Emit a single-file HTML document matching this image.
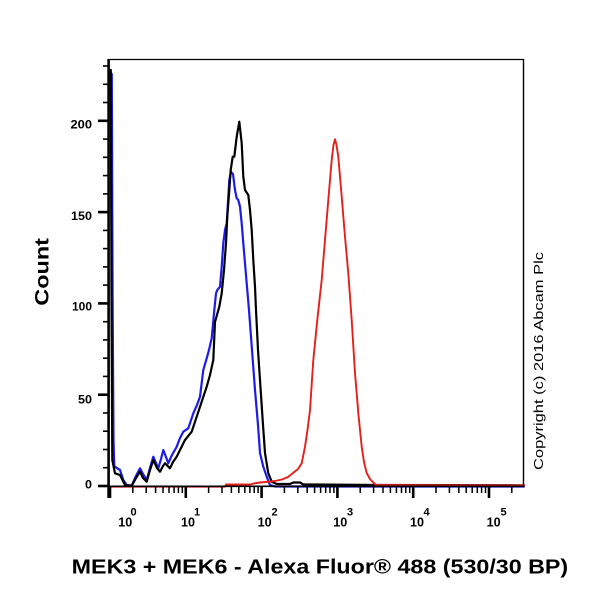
<!DOCTYPE html>
<html>
<head>
<meta charset="utf-8">
<style>
html,body{margin:0;padding:0;background:#fff;}
svg{display:block;}
text{font-family:"Liberation Sans",Arial,sans-serif;fill:#000;}
</style>
</head>
<body>
<svg width="600" height="600" viewBox="0 0 600 600" xmlns="http://www.w3.org/2000/svg">
<rect width="600" height="600" fill="#fff"/>

<!-- frame -->
<line x1="108" y1="59.5" x2="524" y2="59.5" stroke="#000" stroke-width="1.3"/>
<line x1="523.5" y1="59" x2="523.5" y2="487" stroke="#000" stroke-width="1.4"/>

<!-- curves -->
<g fill="none" stroke-linejoin="round" stroke-linecap="round">
<path stroke="#1c1ce6" stroke-width="2.2" d="M111,74 L111.8,74 L112.6,300 L113.5,440 L114.3,466 L116.7,468 L120,470 L123.3,480 L126.7,485 L131.7,485.5 L136,476 L140,468.3 L143,474 L146.7,480 L150,468 L153.3,456.7 L156,463 L158.3,468.3 L161,459 L163.3,450 L166,457 L168.3,463.3 L172,455 L176.7,446.7 L180,438 L183.3,431.7 L188.3,428.3 L193.3,413.3 L197,405 L200,396.7 L203.3,370 L206.7,358.3 L209,350 L211.7,338.3 L214.3,310 L215,303.3 L216,293.3 L217.3,290 L220,286.7 L221.7,266.7 L223.3,243.3 L225,230 L226.7,223.3 L228.3,196.7 L229.3,180 L231,172 L233,174 L235,190 L236.7,198.3 L238.3,200 L240,206.7 L241.7,223.3 L243.3,243.3 L245,263.3 L246.7,283.3 L249,310 L252,350 L255,390 L258,425 L260,453 L263.3,466.7 L266.7,476.7 L270,485 L275,486.5 L330,486.5 L524,486.5"/>
<path stroke="#000" stroke-width="2.2" d="M110.8,70 L111.5,300 L112.3,460 L115,473.3 L120,475 L125,485 L131.7,486 L136,478 L140,471.7 L143,478 L146.7,481.7 L150,470 L153.3,460 L157,468 L160,471.7 L163,466 L165,463.3 L170,468.3 L173,462 L176.7,456.7 L181,448 L185,440 L191.7,431.7 L196.7,416.7 L201.7,401.7 L206.7,386.7 L210,375 L213.3,360 L215,322 L219.3,306.7 L221.7,293.3 L224,270 L226,243.3 L227.3,216.7 L229.3,190 L230.7,170 L232.7,156.7 L234.3,156.7 L236.7,136.7 L239.3,121.7 L241.7,143.3 L243.3,176.7 L245,190 L248.3,195 L250,210 L251.7,230 L253.3,260 L255,286.7 L256,310 L258,350 L261,395 L263,425 L265,453 L268.3,473.3 L271.7,481.7 L276.7,484 L290,484 L293.3,482.5 L300,482.5 L303,484.3 L373,485 L524,485.3"/>
<path stroke="#e3201c" stroke-width="1.9" d="M110,486.7 L225,486.7 L226,484.5 L250,484.5 L256,483 L265,482 L275,481 L282,479.5 L288,477 L293,473 L298,469 L301.7,463.3 L305,446.7 L307.5,430 L310,410 L313.3,360 L317.3,320 L321.7,280 L325,240 L328.3,200 L331.7,160 L333.5,145 L335,139.3 L336.5,145 L338.3,156.7 L341.7,196.7 L345,236.7 L348.3,273.3 L351.7,320 L355,373 L358.3,413 L361.7,446.7 L364,462 L366.7,473 L370,479 L373.3,482.5 L376,485 L524,485.5"/>
</g>

<!-- axes -->
<line x1="108.6" y1="59" x2="108.6" y2="498" stroke="#000" stroke-width="2.6"/>
<line x1="108" y1="486.3" x2="524" y2="486.3" stroke="#000" stroke-width="1.6"/>

<!-- y ticks -->
<g stroke="#000">
<g stroke-width="1.6">
<line x1="103" y1="467.7" x2="108" y2="467.7"/>
<line x1="103" y1="449.5" x2="108" y2="449.5"/>
<line x1="103" y1="431.2" x2="108" y2="431.2"/>
<line x1="103" y1="413" x2="108" y2="413"/>
<line x1="103" y1="376.4" x2="108" y2="376.4"/>
<line x1="103" y1="358.2" x2="108" y2="358.2"/>
<line x1="103" y1="339.9" x2="108" y2="339.9"/>
<line x1="103" y1="321.7" x2="108" y2="321.7"/>
<line x1="103" y1="285.1" x2="108" y2="285.1"/>
<line x1="103" y1="266.9" x2="108" y2="266.9"/>
<line x1="103" y1="248.6" x2="108" y2="248.6"/>
<line x1="103" y1="230.4" x2="108" y2="230.4"/>
<line x1="103" y1="193.9" x2="108" y2="193.9"/>
<line x1="103" y1="175.6" x2="108" y2="175.6"/>
<line x1="103" y1="157.3" x2="108" y2="157.3"/>
<line x1="103" y1="139.1" x2="108" y2="139.1"/>
<line x1="103" y1="102.5" x2="108" y2="102.5"/>
<line x1="103" y1="84.3" x2="108" y2="84.3"/>
<line x1="103" y1="66" x2="108" y2="66"/>
</g>
<g stroke-width="2.6">
<line x1="98" y1="486" x2="108" y2="486"/>
<line x1="98" y1="394.7" x2="108" y2="394.7"/>
<line x1="98" y1="303.4" x2="108" y2="303.4"/>
<line x1="98" y1="212.1" x2="108" y2="212.1"/>
<line x1="98" y1="120.8" x2="108" y2="120.8"/>
</g>
</g>

<!-- x ticks -->
<g stroke="#000">
<g stroke-width="2.6">
<line x1="110" y1="486" x2="110" y2="498"/>
<line x1="185.8" y1="486" x2="185.8" y2="498"/>
<line x1="261.6" y1="486" x2="261.6" y2="498"/>
<line x1="337.4" y1="486" x2="337.4" y2="498"/>
<line x1="413.2" y1="486" x2="413.2" y2="498"/>
<line x1="489" y1="486" x2="489" y2="498"/>
</g>
<g stroke-width="1.5">
<line x1="132.8" y1="486" x2="132.8" y2="493"/><line x1="146.2" y1="486" x2="146.2" y2="493"/><line x1="155.6" y1="486" x2="155.6" y2="493"/><line x1="163" y1="486" x2="163" y2="493"/><line x1="169" y1="486" x2="169" y2="493"/><line x1="174.1" y1="486" x2="174.1" y2="493"/><line x1="178.4" y1="486" x2="178.4" y2="493"/><line x1="182.3" y1="486" x2="182.3" y2="493"/>
<line x1="208.6" y1="486" x2="208.6" y2="493"/><line x1="222" y1="486" x2="222" y2="493"/><line x1="231.4" y1="486" x2="231.4" y2="493"/><line x1="238.8" y1="486" x2="238.8" y2="493"/><line x1="244.8" y1="486" x2="244.8" y2="493"/><line x1="249.9" y1="486" x2="249.9" y2="493"/><line x1="254.2" y1="486" x2="254.2" y2="493"/><line x1="258.1" y1="486" x2="258.1" y2="493"/>
<line x1="284.4" y1="486" x2="284.4" y2="493"/><line x1="297.8" y1="486" x2="297.8" y2="493"/><line x1="307.2" y1="486" x2="307.2" y2="493"/><line x1="314.6" y1="486" x2="314.6" y2="493"/><line x1="320.6" y1="486" x2="320.6" y2="493"/><line x1="325.7" y1="486" x2="325.7" y2="493"/><line x1="330" y1="486" x2="330" y2="493"/><line x1="333.9" y1="486" x2="333.9" y2="493"/>
<line x1="360.2" y1="486" x2="360.2" y2="493"/><line x1="373.6" y1="486" x2="373.6" y2="493"/><line x1="383" y1="486" x2="383" y2="493"/><line x1="390.4" y1="486" x2="390.4" y2="493"/><line x1="396.4" y1="486" x2="396.4" y2="493"/><line x1="401.5" y1="486" x2="401.5" y2="493"/><line x1="405.8" y1="486" x2="405.8" y2="493"/><line x1="409.7" y1="486" x2="409.7" y2="493"/>
<line x1="436" y1="486" x2="436" y2="493"/><line x1="449.4" y1="486" x2="449.4" y2="493"/><line x1="458.8" y1="486" x2="458.8" y2="493"/><line x1="466.2" y1="486" x2="466.2" y2="493"/><line x1="472.2" y1="486" x2="472.2" y2="493"/><line x1="477.3" y1="486" x2="477.3" y2="493"/><line x1="481.6" y1="486" x2="481.6" y2="493"/><line x1="485.5" y1="486" x2="485.5" y2="493"/>
<line x1="511.8" y1="486" x2="511.8" y2="493"/>
</g>
</g>

<!-- y labels -->
<g font-size="12" font-weight="bold" text-anchor="end">
<text x="92" y="488.5" textLength="7" lengthAdjust="spacingAndGlyphs">0</text>
<text x="92" y="403.3" textLength="14" lengthAdjust="spacingAndGlyphs">50</text>
<text x="92" y="310.5" textLength="20" lengthAdjust="spacingAndGlyphs">100</text>
<text x="92" y="220" textLength="21" lengthAdjust="spacingAndGlyphs">150</text>
<text x="92" y="128.5" textLength="21.5" lengthAdjust="spacingAndGlyphs">200</text>
</g>

<!-- x labels -->
<g font-weight="bold">
<text x="118.3" y="526.7" font-size="12.5" textLength="14" lengthAdjust="spacingAndGlyphs">10</text><text x="130.5" y="515.5" font-size="11">0</text>
<text x="181" y="526.7" font-size="12.5" textLength="14" lengthAdjust="spacingAndGlyphs">10</text><text x="194" y="515.5" font-size="11">1</text>
<text x="257.7" y="526.7" font-size="12.5" textLength="14" lengthAdjust="spacingAndGlyphs">10</text><text x="271.5" y="515.5" font-size="11">2</text>
<text x="333.3" y="526.7" font-size="12.5" textLength="14" lengthAdjust="spacingAndGlyphs">10</text><text x="347" y="515.5" font-size="11">3</text>
<text x="410" y="526.7" font-size="12.5" textLength="14" lengthAdjust="spacingAndGlyphs">10</text><text x="423.5" y="515.5" font-size="11">4</text>
<text x="486.7" y="526.7" font-size="12.5" textLength="14" lengthAdjust="spacingAndGlyphs">10</text><text x="500.5" y="515.5" font-size="11">5</text>
</g>

<!-- axis titles -->
<text x="71.7" y="573.3" font-size="20" font-weight="bold" textLength="496.5" lengthAdjust="spacingAndGlyphs">MEK3 + MEK6 - Alexa Fluor® 488 (530/30 BP)</text>
<text transform="translate(48.3,305.7) rotate(-90)" x="0" y="0" font-size="19" font-weight="bold" textLength="67.7" lengthAdjust="spacingAndGlyphs">Count</text>
<text transform="translate(543.2,470) rotate(-90)" x="0" y="0" font-size="13" textLength="218" lengthAdjust="spacingAndGlyphs">Copyright (c) 2016 Abcam Plc</text>
</svg>
</body>
</html>
